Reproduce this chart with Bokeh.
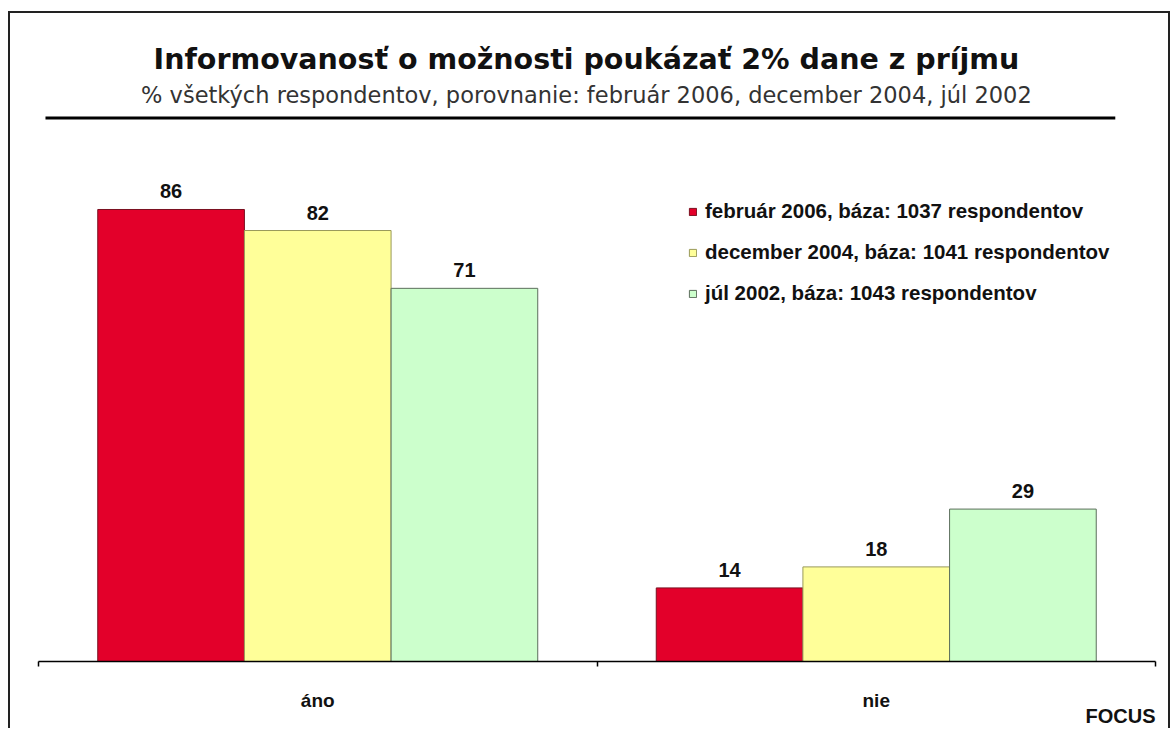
from bokeh.plotting import figure
from bokeh.models import (ColumnDataSource, Range1d, FixedTicker, Legend, LegendItem,
                          LabelSet, Label, BoxAnnotation, Title)
from bokeh.transform import dodge
from bokeh.core.properties import value
from bokeh.embed import file_html
from bokeh.resources import INLINE

# ---- data ----
categories = ["áno", "nie"]
series_names = [
    "február 2006, báza: 1037 respondentov",
    "december 2004, báza: 1041 respondentov",
    "júl 2002, báza: 1043 respondentov",
]
feb_2006 = [86, 14]
dec_2004 = [82, 18]
jul_2002 = [71, 29]
title_text = "Informovanosť o možnosti poukázať 2% dane z príjmu"
subtitle_text = "% všetkých respondentov, porovnanie: február 2006, december 2004, júl 2002"
source_text = "FOCUS"

fill_colors = ["#E3002A", "#FFFF99", "#CCFFCC"]
line_colors = ["#7a1020", "#9a9a5a", "#5c6e5c"]

centers = [i + 0.5 for i in range(len(categories))]
bar_w = 0.2626
offsets = [-bar_w, 0.0, bar_w]

p = figure(width=1162, height=717, x_range=Range1d(0, len(categories)),
           y_range=Range1d(0, 123.29), output_backend="svg", toolbar_location=None,
           title=None, y_axis_location=None, min_border_left=28, min_border_right=17,
           min_border_top=0, min_border_bottom=69)
p.styles = {"margin-left": "8px", "margin-top": "11px",
            "border-top": "2px solid #222222", "border-left": "2px solid #222222",
            "border-right": "2px solid #222222"}
p.xgrid.grid_line_color = None
p.ygrid.grid_line_color = None
p.outline_line_color = None
p.background_fill_color = "white"
p.border_fill_color = "white"

renderers = []
for vals, off, fc, lc in zip([feb_2006, dec_2004, jul_2002], offsets, fill_colors, line_colors):
    src = ColumnDataSource(dict(x=centers, top=vals, label=[str(v) for v in vals]))
    r = p.vbar(x=dodge("x", off, range=p.x_range), top="top", width=bar_w, source=src,
               fill_color=fc, line_color=lc, line_width=1)
    renderers.append(r)
    p.add_layout(LabelSet(x=dodge("x", off, range=p.x_range), y="top", text="label",
                          source=src, text_align="center", text_baseline="bottom",
                          y_offset=11, text_font=value("Liberation Sans"),
                          text_font_style="bold", text_font_size="20px",
                          text_color="#111111"))

xa = p.xaxis[0]
xa.ticker = FixedTicker(ticks=centers, minor_ticks=list(range(len(categories) + 1)))
xa.major_label_overrides = {c: cat for c, cat in zip(centers, categories)}
xa.major_tick_line_color = None
xa.major_tick_out = 0
xa.major_tick_in = 0
xa.minor_tick_line_color = "black"
xa.minor_tick_out = 5
xa.minor_tick_in = 0
xa.minor_tick_line_width = 1.5
xa.axis_line_color = "black"
xa.axis_line_width = 1.5
xa.major_label_standoff = 23
xa.major_label_text_font = "Liberation Sans"
xa.major_label_text_font_style = "bold"
xa.major_label_text_font_size = "19px"
xa.major_label_text_color = "#111111"

# source note "FOCUS" at the bottom right
p.add_layout(Title(text=source_text, align="right", vertical_align="top", standoff=-18,
                   text_font="Liberation Sans", text_font_style="bold",
                   text_font_size="20px", text_color="#111111"), "below")

legend = Legend(items=[LegendItem(label=n, renderers=[r]) for n, r in zip(series_names, renderers)],
                location=(650, 356), glyph_width=9, glyph_height=9, label_height=9,
                label_standoff=8, spacing=17, padding=10, border_line_color=None,
                background_fill_alpha=0, label_text_font="Liberation Sans",
                label_text_font_style="bold", label_text_font_size="20.5px",
                label_text_color="#111111")
p.add_layout(legend)

p.add_layout(Label(x=0.981, y=114.54, text=title_text, text_align="center",
                   text_baseline="middle", text_font="DejaVu Sans", text_font_style="bold",
                   text_font_size="28.5px", text_color="#111111"))
p.add_layout(Label(x=0.981, y=107.69, text=subtitle_text, text_align="center",
                   text_baseline="middle", text_font="DejaVu Sans",
                   text_font_size="22.5px", text_color="#333333"))
p.add_layout(BoxAnnotation(left=0.0125, right=1.928, bottom=103.1, top=103.7,
                           fill_color="black", fill_alpha=1, line_color=None))

open("out.html", "w").write(file_html(p, INLINE))
